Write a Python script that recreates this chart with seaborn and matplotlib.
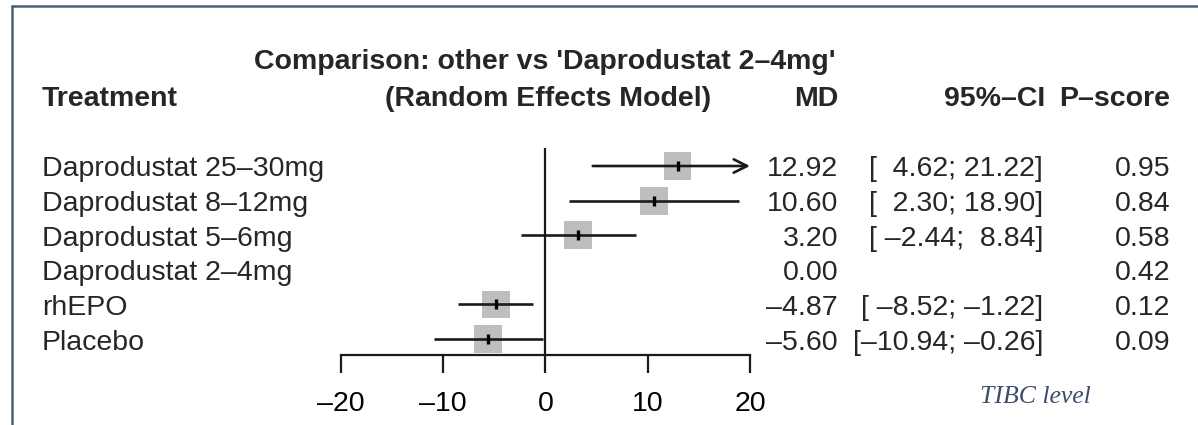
"""
Network meta-analysis forest plot (TIBC level), comparison vs 'Daprodustat 2-4mg'
"""

import numpy as np
import pandas as pd
import seaborn as sns
import matplotlib.pyplot as plt
from matplotlib import transforms
from matplotlib.lines import Line2D

# ---------------------------------------------------------------------------
# DATA
# ---------------------------------------------------------------------------
treatments = ["Daprodustat 25–30mg", "Daprodustat 8–12mg", "Daprodustat 5–6mg",
              "Daprodustat 2–4mg", "rhEPO", "Placebo"]
md = [12.92, 10.60, 3.20, 0.00, -4.87, -5.60]
ci_lower = [4.62, 2.30, -2.44, np.nan, -8.52, -10.94]
ci_upper = [21.22, 18.90, 8.84, np.nan, -1.22, -0.26]
p_score = [0.95, 0.84, 0.58, 0.42, 0.12, 0.09]
x_ticks = [-20, -10, 0, 10, 20]
reference = "Daprodustat 2–4mg"

W, H = 1198, 425
FS = 20.5
FRAME = "#4d5d7c"
INK = "#1a1a1a"

sns.set_theme(style="white")
plt.rcParams["font.family"] = ["Liberation Sans", "DejaVu Sans"]


def dash(s):
    # R's pdf device draws the minus as an en dash
    return s.replace("-", "–")


df = pd.DataFrame({"treatment": treatments, "md": md, "lower": ci_lower,
                   "upper": ci_upper, "pscore": p_score})
df["row"] = np.arange(len(df))
est = df[df["treatment"] != reference]

# ---------------------------------------------------------------------------
# FIGURE / FOREST PANEL
# ---------------------------------------------------------------------------
fig = plt.figure(figsize=(W / 100, H / 100), dpi=100)
fig.patch.set_facecolor("white")
ax = fig.add_axes([341 / W, 70 / H, (750 - 341) / W, (355 - 148) / H])
ax.set_facecolor("none")
xmin, xmax = x_ticks[0], x_ticks[-1]
ax.set_xlim(xmin, xmax)
ax.set_ylim(len(df) - 0.54, -0.52)

# null line
ax.axvline(0, color=INK, lw=1.6, zorder=3)

# grey squares
sns.scatterplot(data=est, x="md", y="row", marker="s", s=400, color="#bebebe",
                edgecolor="none", linewidth=0, legend=False, ax=ax, zorder=2,
                clip_on=False)

# confidence intervals (arrow where clipped at the axis limits)
for _, r in est.iterrows():
    lo, hi = r["lower"], r["upper"]
    if hi > xmax or lo < xmin:
        ax.annotate("", xy=(min(hi, xmax), r["row"]),
                    xytext=(max(lo, xmin), r["row"]),
                    arrowprops=dict(arrowstyle="->", lw=1.9, color=INK,
                                    mutation_scale=24, shrinkA=0, shrinkB=0),
                    annotation_clip=False, zorder=3)
    else:
        ax.hlines(r["row"], lo, hi, color=INK, lw=1.9, zorder=3)

# point estimate ticks
sns.scatterplot(data=est, x="md", y="row", marker="|", s=60, color="black",
                linewidth=2.4, legend=False, ax=ax, zorder=4)

# axis styling (after seaborn, which sets its own labels)
for s in ["top", "right", "left"]:
    ax.spines[s].set_visible(False)
ax.spines["bottom"].set_linewidth(1.6)
ax.spines["bottom"].set_color(INK)
ax.set_xticks(x_ticks, labels=[dash(str(t)) for t in x_ticks])
ax.set_yticks([])
ax.tick_params(axis="x", direction="out", length=13, width=1.6, pad=13,
               labelsize=FS, colors=INK, labelcolor="black", bottom=True)
ax.xaxis.label.set_visible(False)
ax.yaxis.label.set_visible(False)

# ---------------------------------------------------------------------------
# TEXT COLUMNS
# ---------------------------------------------------------------------------
row_tr = transforms.offset_copy(
    transforms.blended_transform_factory(fig.transFigure, ax.transData),
    fig=fig, y=-10.5, units="dots")

for _, r in df.iterrows():
    y = r["row"]
    fig.text(42 / W, y, r["treatment"], transform=row_tr, ha="left",
             va="baseline", fontsize=FS)
    fig.text(838 / W, y, dash(f"{r['md']:.2f}"), transform=row_tr, ha="right",
             va="baseline", fontsize=FS)
    if not np.isnan(r["lower"]):
        ci = dash(f"[{r['lower']:6.2f}; {r['upper']:5.2f}]")
        fig.text(1043 / W, y, ci, transform=row_tr, ha="right",
                 va="baseline", fontsize=FS)
    fig.text(1170 / W, y, f"{r['pscore']:.2f}", transform=row_tr, ha="right",
             va="baseline", fontsize=FS)

# header
hdr = dict(fontsize=FS, fontweight="bold", va="baseline")
fig.text(545 / W, 1 - 69 / H, f"Comparison: other vs '{reference}'",
         ha="center", **hdr)
fig.text(42 / W, 1 - 106 / H, "Treatment", ha="left", **hdr)
fig.text(548 / W, 1 - 106 / H, "(Random Effects Model)", ha="center", **hdr)
fig.text(838 / W, 1 - 106 / H, "MD", ha="right", **hdr)
fig.text(1045 / W, 1 - 106 / H, "95%–CI", ha="right", **hdr)
fig.text(1170 / W, 1 - 106 / H, "P–score", ha="right", **hdr)

# caption
fig.text(980 / W, 1 - 403 / H, "TIBC level", ha="left", va="baseline",
         fontsize=18.5, fontstyle="italic", color="#3e4e6a",
         family=["Liberation Serif", "DejaVu Serif"])

# frame lines (top and left)
fig.add_artist(Line2D([12 / W, 1], [1 - 6 / H, 1 - 6 / H], color=FRAME, lw=1.8,
                      transform=fig.transFigure))
fig.add_artist(Line2D([12 / W, 12 / W], [0, 1 - 6 / H], color=FRAME, lw=1.8,
                      transform=fig.transFigure))

fig.savefig("out.png", dpi=100)
